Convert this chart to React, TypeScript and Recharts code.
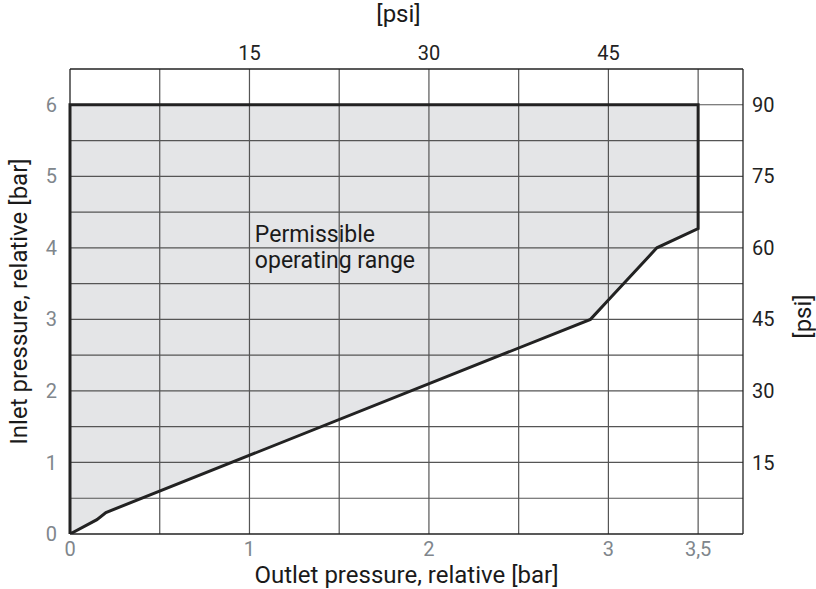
import React from 'react';
import { ComposedChart, Area, Scatter, XAxis, YAxis, ReferenceLine, ReferenceDot, Label } from 'recharts';

// outlet pressure [bar] along the lower limit
const outletBar = [0, 0.15, 0.2, 2.9, 3.0, 3.27, 3.5];
// minimum inlet pressure [bar] at each outlet point
const minInletBar = [0, 0.2, 0.3, 3.0, 3.27, 4.0, 4.27];
const maxInletBar = 6;

const xGridTicks = [0, 0.5, 1, 1.5, 2, 2.5, 3, 3.5];
const yGridTicks = [0, 0.5, 1, 1.5, 2, 2.5, 3, 3.5, 4, 4.5, 5, 5.5, 6];
const bottomLabels: Record<number, string> = { 0: '0', 1: '1', 2: '2', 3: '3', 3.5: '3,5' };
const leftLabels: Record<number, string> = { 0: '0', 1: '1', 2: '2', 3: '3', 4: '4', 5: '5', 6: '6' };
const topPsiPos = [1, 2, 3];
const topPsiLabels = ['15', '30', '45'];
const rightPsiPos = [1, 2, 3, 4, 5, 6];
const rightPsiLabels = ['15', '30', '45', '60', '75', '90'];

const FONT = 'Roboto, sans-serif';
const GRAY = '#80868c';
const DARK = '#222';
const TEXT = '#1a1a1a';
const GRID = '#555';

const areaData = outletBar.map((x, i) => ({ x, range: [minInletBar[i], maxInletBar] }));

// closed outline of the permissible range
const outline = [
  ...outletBar.map((x, i) => ({ x, y: minInletBar[i] })),
  { x: outletBar[outletBar.length - 1], y: maxInletBar },
  { x: 0, y: maxInletBar },
  { x: 0, y: 0 },
];

const RangeText = (props: any) => {
  const { viewBox } = props;
  const x = viewBox?.x ?? viewBox?.cx ?? 0;
  const y = viewBox?.y ?? viewBox?.cy ?? 0;
  return (
    <text x={x} y={y} fill={TEXT} fontFamily={FONT} fontSize={23}>
      <tspan x={x} dy={0}>Permissible</tspan>
      <tspan x={x} dy={26}>operating range</tspan>
    </text>
  );
};

// rotated axis title, centred at (cx, cy) relative to the axis box
const VTitle = ({ viewBox, value, dxFromLeft, dyFromMid }: any) => {
  const cx = viewBox.x + dxFromLeft;
  const cy = viewBox.y + viewBox.height / 2 + dyFromMid;
  return (
    <text
      x={cx}
      y={cy}
      transform={`rotate(-90, ${cx}, ${cy})`}
      textAnchor="middle"
      dominantBaseline="central"
      fill={TEXT}
      fontFamily={FONT}
      fontSize={24}
    >
      {value}
    </text>
  );
};

export default function App() {
  return (
    <div style={{ position: 'absolute', left: 0, top: 0, width: 816, height: 589, background: '#fff' }}>
      <ComposedChart width={816} height={589} data={areaData} margin={{ top: 0, right: 0, bottom: 0, left: 0 }}>
        <XAxis
          xAxisId="bottom"
          dataKey="x"
          type="number"
          domain={[0, 3.75]}
          ticks={xGridTicks}
          tickFormatter={(v: number) => bottomLabels[v] ?? ''}
          tick={{ fill: GRAY, fontSize: 20, fontFamily: FONT }}
          tickLine={false}
          tickMargin={2}
          axisLine={{ stroke: DARK, strokeWidth: 1.3 }}
          height={55}
          interval={0}
        >
          <Label value="Outlet pressure, relative [bar]" position="insideBottom" offset={6} fill={TEXT} fontSize={24} fontFamily={FONT} />
        </XAxis>
        <XAxis
          xAxisId="top"
          orientation="top"
          dataKey="x"
          type="number"
          domain={[0, 3.75]}
          ticks={topPsiPos}
          tickFormatter={(v: number) => topPsiLabels[topPsiPos.indexOf(v)] ?? ''}
          tick={{ fill: DARK, fontSize: 20, fontFamily: FONT }}
          tickLine={false}
          tickMargin={3}
          axisLine={{ stroke: DARK, strokeWidth: 1.3 }}
          height={69}
          interval={0}
        >
          <Label value="[psi]" position="insideTop" offset={5} dx={-8} fill={TEXT} fontSize={24} fontFamily={FONT} />
        </XAxis>
        <YAxis
          yAxisId="left"
          type="number"
          domain={[0, 6.5]}
          allowDataOverflow
          ticks={yGridTicks}
          tickFormatter={(v: number) => leftLabels[v] ?? ''}
          tick={{ fill: GRAY, fontSize: 20, fontFamily: FONT }}
          tickLine={false}
          tickMargin={7}
          axisLine={{ stroke: DARK, strokeWidth: 1.3 }}
          width={70}
          interval={0}
        >
          <Label content={(p: any) => <VTitle {...p} value="Inlet pressure, relative [bar]" dxFromLeft={19} dyFromMid={0} />} />
        </YAxis>
        <YAxis
          yAxisId="right"
          orientation="right"
          type="number"
          dataKey="range"
          domain={[0, 6.5]}
          allowDataOverflow
          ticks={rightPsiPos}
          tickFormatter={(v: number) => rightPsiLabels[rightPsiPos.indexOf(v)] ?? ''}
          tick={{ fill: DARK, fontSize: 20, fontFamily: FONT }}
          tickLine={false}
          tickMargin={3}
          axisLine={{ stroke: DARK, strokeWidth: 1.3 }}
          width={73}
          interval={0}
        >
          <Label content={(p: any) => <VTitle {...p} value="[psi]" dxFromLeft={60} dyFromMid={15} />} />
        </YAxis>
        <Area
          xAxisId="bottom"
          yAxisId="left"
          type="linear"
          dataKey="range"
          fill="#e4e5e7"
          fillOpacity={1}
          stroke="none"
          isAnimationActive={false}
        />
        {xGridTicks.slice(1).map((x) => (
          <ReferenceLine key={`vx${x}`} xAxisId="bottom" yAxisId="left" x={x} stroke={GRID} strokeWidth={1.2} />
        ))}
        {yGridTicks.slice(1).map((y) => (
          <ReferenceLine key={`hy${y}`} xAxisId="bottom" yAxisId="left" y={y} stroke={GRID} strokeWidth={1.2} />
        ))}
        <Scatter
          xAxisId="bottom"
          yAxisId="left"
          data={outline}
          dataKey="y"
          line={{ stroke: DARK, strokeWidth: 3 }}
          lineType="joint"
          shape={() => <g />}
          isAnimationActive={false}
        />
        <ReferenceDot xAxisId="bottom" yAxisId="left" x={1.03} y={4.08} r={0} fill="none" stroke="none" label={<RangeText />} />
      </ComposedChart>
    </div>
  );
}
